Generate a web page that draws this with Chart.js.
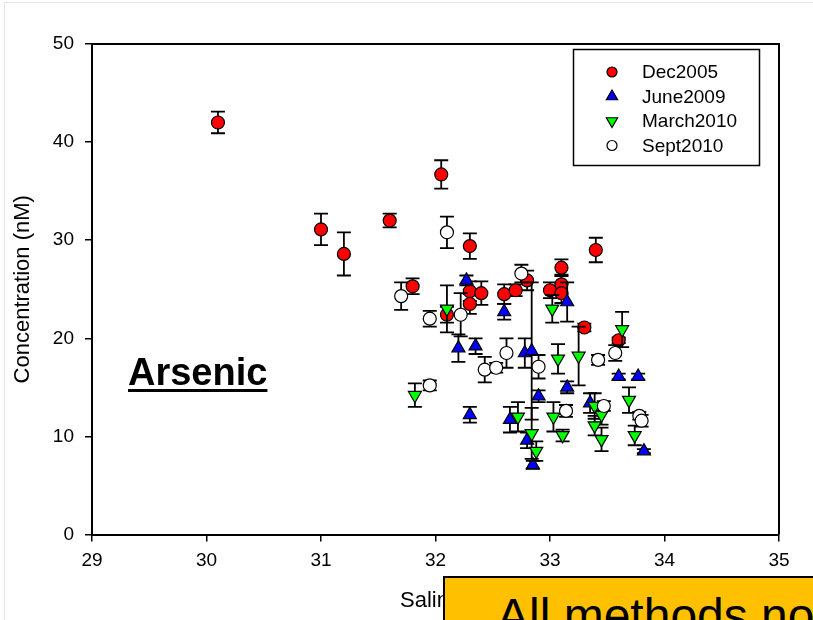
<!DOCTYPE html>
<html>
<head>
<meta charset="utf-8">
<script src="https://cdn.jsdelivr.net/npm/chart.js@4.4.0/dist/chart.umd.min.js"></script>
<style>
    body { margin: 0; background: #fff; }
    #wrap { position: relative; width: 813px; height: 620px; overflow: hidden; font-family: 'Liberation Sans', Arial, sans-serif; }
    #edge { position: absolute; left: 4px; top: 2px; width: 900px; height: 700px; border-left: 1px solid #e4e4e4; border-top: 1px solid #e4e4e4; }
    canvas { position: absolute; left: 0; top: 0; }
    #element { position: absolute; left: 128px; top: 353px; font-weight: bold; font-size: 38px; line-height: 38px;
        text-decoration: underline; text-decoration-thickness: 3px; text-underline-offset: 4px; color: #000; }
    #note { position: absolute; left: 443px; top: 576px; width: 420px; height: 100px; box-sizing: border-box;
        background: #FFC000; border: 2px solid #000; padding: 14px 0 0 52px; font-size: 48px; line-height: 48px;
        white-space: nowrap; color: #000; }
</style>
</head>
<body>
<div id="wrap">
    <div id="edge"></div>
    <canvas id="chart" width="813" height="620"></canvas>
    <div id="element">Arsenic</div>
    <div id="note">All methods not</div>
</div>
<script>
// salinity (x), arsenic concentration nM (y), error (+/-)
const salDec2005 = [30.1, 31.0, 31.2, 31.6, 31.8, 32.05, 32.1, 32.3, 32.3, 32.3, 32.4, 32.6, 32.7, 32.8, 33.0, 33.1, 33.1, 33.1, 33.3, 33.4, 33.6];
const asDec2005  = [42.0, 31.1, 28.6, 32.0, 25.3, 36.7, 22.4, 29.4, 24.8, 23.5, 24.6, 24.5, 24.9, 25.9, 24.9, 27.2, 25.5, 24.6, 21.1, 29.0, 19.8];
const errDec2005 = [1.1, 1.6, 2.2, 0.7, 0.8, 1.45, 0.8, 1.3, 1.0, 1.0, 1.2, 1.0, 0.6, 1.0, 0.8, 0.85, 1.0, 1.0, 0.4, 1.25, 0.3];

const salJune2009 = [32.27, 32.6, 32.2, 32.35, 32.3, 32.65, 32.78, 32.84, 32.9, 32.8, 32.85, 33.15, 33.15, 33.35, 33.6, 33.77, 33.82];
const asJune2009  = [25.9, 22.7, 19.0, 19.2, 12.2, 11.7, 18.5, 18.7, 14.1, 9.6, 7.1, 23.7, 15.0, 13.4, 16.1, 16.1, 8.5];
const errJune2009 = [0.5, 0.8, 1.4, 0.8, 0.8, 1.3, 1.5, 7.0, 0.6, 0.8, 0.4, 2.0, 0.6, 1.0, 0.3, 0.3, 0.2];

const salMarch2010 = [31.82, 32.1, 32.72, 32.84, 32.88, 33.02, 33.03, 33.07, 33.11, 33.25, 33.39, 33.39, 33.45, 33.45, 33.63, 33.69, 33.74];
const asMarch2010  = [14.2, 23.0, 12.0, 10.3, 8.5, 23.0, 12.0, 17.9, 10.1, 18.2, 13.1, 11.1, 12.2, 9.7, 20.9, 13.7, 10.1];
const errMarch2010 = [1.2, 2.4, 1.5, 2.6, 1.0, 1.4, 1.5, 1.5, 0.6, 3.0, 1.3, 1.0, 1.0, 1.2, 1.8, 1.3, 1.0];

const salSept2010 = [31.7, 31.95, 31.95, 32.1, 32.22, 32.43, 32.53, 32.62, 32.75, 32.9, 33.14, 33.42, 33.47, 33.57, 33.78, 33.8];
const asSept2010  = [24.3, 22.0, 15.2, 30.8, 22.4, 16.8, 17.0, 18.5, 26.6, 17.1, 12.6, 17.8, 13.1, 18.5, 12.1, 11.6];
const errSept2010 = [1.4, 0.8, 0.5, 1.6, 2.2, 1.3, 0.5, 1.5, 0.9, 1.2, 0.6, 0.5, 0.5, 0.8, 0.4, 0.6];

const xTicks = [29, 30, 31, 32, 33, 34, 35];
const yTicks = [0, 10, 20, 30, 40, 50];

const FONT = "'Liberation Sans', Arial, sans-serif";

function toPoints(xs, ys) {
    return xs.map((x, i) => ({ x: x, y: ys[i] }));
}

function drawMarker(ctx, style, x, y, r, fill) {
    ctx.beginPath();
    if (style === 'circle') {
        ctx.arc(x, y, r, 0, Math.PI * 2);
    } else {
        const dir = style === 'down' ? -1 : 1;
        ctx.moveTo(x, y - dir * r);
        ctx.lineTo(x + r * 0.866, y + dir * r * 0.5);
        ctx.lineTo(x - r * 0.866, y + dir * r * 0.5);
        ctx.closePath();
    }
    ctx.fillStyle = fill;
    ctx.fill();
    ctx.lineWidth = 1.2;
    ctx.strokeStyle = '#000';
    ctx.stroke();
}

// error bars go under each series' own markers
const errorBars = {
    id: 'errorBars',
    beforeDatasetDraw(chart, args) {
        const ds = chart.data.datasets[args.index];
        if (!ds.errors) return;
        const { ctx, scales: { x, y } } = chart;
        ctx.save();
        ctx.strokeStyle = '#000';
        ctx.lineWidth = 1.8;
        ds.data.forEach((p, i) => {
            const px = x.getPixelForValue(p.x);
            const top = y.getPixelForValue(p.y + ds.errors[i]);
            const bot = y.getPixelForValue(p.y - ds.errors[i]);
            ctx.beginPath();
            ctx.moveTo(px, top); ctx.lineTo(px, bot);
            ctx.moveTo(px - 7, top); ctx.lineTo(px + 7, top);
            ctx.moveTo(px - 7, bot); ctx.lineTo(px + 7, bot);
            ctx.stroke();
        });
        ctx.restore();
    }
};

const frameAndLegend = {
    id: 'frameAndLegend',
    afterDraw(chart) {
        const { ctx, chartArea: a } = chart;
        ctx.save();
        ctx.strokeStyle = '#000';
        ctx.lineWidth = 2;
        ctx.beginPath();
        ctx.moveTo(a.left, a.top); ctx.lineTo(a.right, a.top); ctx.lineTo(a.right, a.bottom);
        ctx.stroke();

        // legend box inside the plot, top right
        ctx.lineWidth = 1.5;
        ctx.strokeRect(573.5, 49.5, 186, 116);
        ctx.font = '19px ' + FONT;
        ctx.textBaseline = 'middle';
        ctx.textAlign = 'left';
        chart.data.datasets.forEach((ds, i) => {
            const yy = 72 + i * 24.5;
            drawMarker(ctx, ds.marker, 612, yy, ds.marker === 'circle' ? 5 : 6.5, ds.backgroundColor);
            ctx.fillStyle = '#000';
            ctx.fillText(ds.label, 642, yy + 1);
        });
        ctx.restore();
    }
};

function series(label, xs, ys, errs, color, style, order) {
    return {
        label: label,
        data: toPoints(xs, ys),
        errors: errs,
        marker: style,
        order: order,
        backgroundColor: color,
        borderColor: '#000',
        borderWidth: 1.2,
        pointStyle: style === 'circle' ? 'circle' : 'triangle',
        rotation: style === 'down' ? 180 : 0,
        pointRadius: style === 'circle' ? 6.5 : 7.5,
        pointHoverRadius: style === 'circle' ? 6.5 : 7.5
    };
}

const ctx = document.getElementById('chart').getContext('2d');
new Chart(ctx, {
    type: 'scatter',
    data: {
        datasets: [
            series('Dec2005', salDec2005, asDec2005, errDec2005, '#FF0000', 'circle', 4),
            series('June2009', salJune2009, asJune2009, errJune2009, '#0000FF', 'up', 3),
            series('March2010', salMarch2010, asMarch2010, errMarch2010, '#00FF00', 'down', 2),
            series('Sept2010', salSept2010, asSept2010, errSept2010, '#FFFFFF', 'circle', 1)
        ]
    },
    options: {
        responsive: false,
        animation: false,
        events: [],
        layout: { padding: { left: 0, top: 44, right: 34, bottom: 0 } },
        plugins: { legend: { display: false }, tooltip: { enabled: false } },
        scales: {
            x: {
                type: 'linear',
                min: 29, max: 35,
                afterFit: s => { s.height = 85.5; },
                afterBuildTicks: s => { s.ticks = xTicks.map(v => ({ value: v })); },
                border: { display: true, color: '#000', width: 2 },
                grid: { drawOnChartArea: false, drawTicks: true, tickLength: 7, color: '#000', lineWidth: 1.5 },
                ticks: { color: '#000', padding: 8, font: { family: FONT, size: 19 } },
                title: { display: true, text: 'Salinity', color: '#000', font: { family: FONT, size: 22 }, padding: { top: 0, bottom: 6 } }
            },
            y: {
                type: 'linear',
                min: 0, max: 50,
                afterFit: s => { s.width = 92; },
                afterBuildTicks: s => { s.ticks = yTicks.map(v => ({ value: v })); },
                border: { display: true, color: '#000', width: 2 },
                grid: { drawOnChartArea: false, drawTicks: true, tickLength: 7, color: '#000', lineWidth: 1.5 },
                ticks: { color: '#000', padding: 11, font: { family: FONT, size: 19 } },
                title: { display: true, text: 'Concentration (nM)', color: '#000', font: { family: FONT, size: 22 }, padding: { top: 10, bottom: 0 } }
            }
        }
    },
    plugins: [errorBars, frameAndLegend]
});
</script>
</body>
</html>
